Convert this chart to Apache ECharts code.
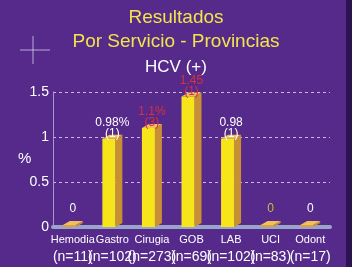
<!DOCTYPE html>
<html>
<head>
<meta charset="utf-8">
<script src="https://cdn.jsdelivr.net/npm/echarts@6/dist/echarts.min.js"></script>
<style>
html,body{margin:0;padding:0;background:#552a8a;}
#main{width:352px;height:267px;}
</style>
</head>
<body>
<div id="main"></div>
<script>
var categories = ['Hemodia', 'Gastro', 'Cirugia', 'GOB', 'LAB', 'UCI', 'Odont'];
var counts = ['(n=11)', '(n=102)', '(n=273)', '(n=69)', '(n=102)', '(n=83)', '(n=17)'];
var values = [0, 0.98, 1.1, 1.45, 0.98, 0, 0];
var valueLabels = ['0', '0.98%', '1.1%', '1.45', '0.98', '0', '0'];
var caseLabels = ['', '(1)', '(3)', '(1)', '(1)', '', ''];
var labelColors = ['#ffffff', '#ffffff', '#d8303c', '#d8303c', '#ffffff', '#c9bb3a', '#ffffff'];
var yTicks = [0, 0.5, 1, 1.5];

var chart = echarts.init(document.getElementById('main'));

// 3d-ish bar: side face, top face, front face + two label lines
function drawBar(params, api) {
	var i = params.dataIndex;
	var top = api.coord([i, api.value(1)]);
	var base = api.coord([i, 0]);
	var w = 13, dx = 7, dy = 4;
	var x0 = top[0] - 10;
	var yTop = Math.min(top[1], base[1] - 2);
	var yBot = base[1];
	var kids = [
		{ type: 'polygon', shape: { points: [[x0 + w, yTop], [x0 + w + dx, yTop - dy], [x0 + w + dx, yBot - dy], [x0 + w, yBot]] },
		  style: { fill: '#c98f35' } },
		{ type: 'polygon', shape: { points: [[x0, yTop], [x0 + dx, yTop - dy], [x0 + w + dx, yTop - dy], [x0 + w, yTop]] },
		  style: { fill: '#f0c060' } },
		{ type: 'rect', shape: { x: x0, y: yTop, width: w, height: yBot - yTop },
		  style: { fill: values[i] > 0 ? '#f7e51c' : '#e0a040' } }
	];
	var lx = x0 + (w + dx) / 2;
	kids.push({ type: 'text', style: { text: valueLabels[i], x: lx, y: yTop - 10, align: 'center', verticalAlign: 'bottom',
		fill: labelColors[i], font: '12px "Liberation Sans", Arial, sans-serif' } });
	if (caseLabels[i]) {
		kids.push({ type: 'text', style: { text: caseLabels[i], x: lx, y: yTop + 1, align: 'center', verticalAlign: 'bottom',
			fill: labelColors[i], font: '12px "Liberation Sans", Arial, sans-serif' } });
	}
	return { type: 'group', children: kids };
}

var data = [];
for (var i = 0; i < values.length; i++) data.push([i, values[i]]);

option = {
	backgroundColor: '#552a8a',
	title: [
		{ text: 'Resultados', left: 'center', top: 3,
		  textStyle: { color: '#f2e44c', fontSize: 19, fontWeight: 'normal', fontFamily: 'Liberation Sans' } },
		{ text: 'Por Servicio - Provincias', left: 'center', top: 27,
		  textStyle: { color: '#f2e44c', fontSize: 19, fontWeight: 'normal', fontFamily: 'Liberation Sans' } },
		{ text: 'HCV (+)', left: 'center', top: 54,
		  textStyle: { color: '#ffffff', fontSize: 17, fontWeight: 'normal', fontFamily: 'Liberation Sans' } },
		{ text: '%', left: 13, top: 146,
		  textStyle: { color: '#ffffff', fontSize: 15, fontWeight: 'normal', fontFamily: 'Liberation Sans' } }
	],
	graphic: [
		{ type: 'line', shape: { x1: 20, y1: 50, x2: 50, y2: 50 }, style: { stroke: 'rgba(230,225,250,0.7)', lineWidth: 1 } },
		{ type: 'line', shape: { x1: 33, y1: 36, x2: 33, y2: 64 }, style: { stroke: 'rgba(230,225,250,0.7)', lineWidth: 1 } },
		{ type: 'rect', shape: { x: 346, y: 0, width: 6, height: 267 }, style: { fill: '#2a1450' } }
	],
	grid: { left: 53, right: 22, top: 92, bottom: 40 },
	xAxis: {
		type: 'category',
		data: categories,
		axisTick: { show: false },
		axisLine: { lineStyle: { color: '#9aa4c8', width: 4 } },
		axisLabel: {
			interval: 0,
			margin: 5,
			formatter: function (v, idx) { return '{a|' + v + '}\n{b|' + counts[idx] + '}'; },
			rich: {
				a: { color: '#ffffff', fontSize: 11, fontFamily: 'Liberation Sans', lineHeight: 16 },
				b: { color: '#ffffff', fontSize: 14, fontFamily: 'Liberation Sans', lineHeight: 18 }
			}
		}
	},
	yAxis: {
		type: 'value',
		min: 0,
		max: 1.5,
		interval: 0.5,
		axisLine: { show: true, lineStyle: { color: '#a898c8' } },
		axisTick: { show: false },
		axisLabel: { color: '#ffffff', fontSize: 14, fontFamily: 'Liberation Sans', margin: 4,
			formatter: function (v) { return yTicks.indexOf(v) >= 0 ? String(v) : ''; } },
		splitLine: { lineStyle: { color: '#c8b8e8', type: [3, 3] } }
	},
	series: [{
		type: 'custom',
		renderItem: drawBar,
		data: data,
		clip: false
	}]
};
chart.setOption(option);
</script>
</body>
</html>
